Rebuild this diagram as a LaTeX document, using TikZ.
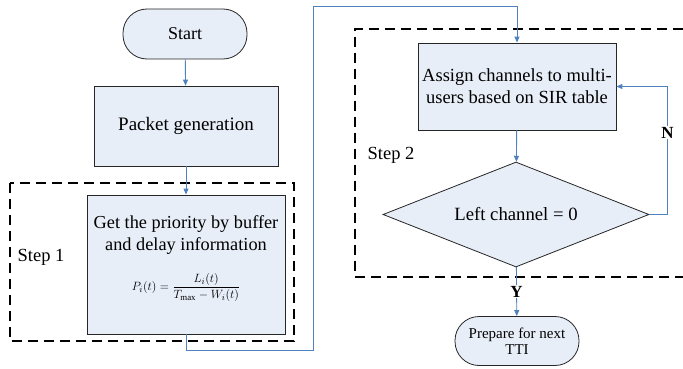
\documentclass[tikz,border=0pt]{standalone}
\usepackage{amsmath}
\usepackage{fontspec}
\setmainfont{Liberation Serif}
\usetikzlibrary{shapes.geometric,arrows.meta}

\definecolor{boxfill}{RGB}{232,238,248}
\definecolor{flowblue}{RGB}{79,129,189}

\tikzset{
  proc/.style={draw=black!85, fill=boxfill, line width=0.8pt, inner sep=2pt, align=center, font=\fontsize{18.5}{22}\selectfont},
  term/.style={proc, rounded corners=24pt},
  decide/.style={proc, diamond, aspect=2.5, inner sep=0pt},
  flow/.style={draw=flowblue, line width=0.9pt, -{Triangle[length=6pt,width=5pt]}},
  stepframe/.style={draw=black, line width=1.4pt, dash pattern=on 10pt off 6pt},
  steplabel/.style={font=\fontsize{18.5}{22}\selectfont},
  answer/.style={fill=white, inner sep=1pt, font=\bfseries\fontsize{17}{19}\selectfont},
}

\begin{document}
\begin{tikzpicture}[x=1pt, y=-1pt]
\useasboundingbox (0,0) rectangle (683,369);

% dashed frames of the two steps
\draw[stepframe] (10,183) rectangle (294,341);
\draw[stepframe] (683,29) -- (355,29) -- (355,277) -- (683,277);
\node[steplabel] (step1) at (41,257) {Step 1};
\node[steplabel] (step2) at (391,155) {Step 2};

% left column
\node[term, minimum width=124pt, minimum height=50pt, font=\fontsize{18}{22}\selectfont] (start) at (185,34) {Start};
\node[proc, minimum width=184pt, minimum height=80pt, font=\fontsize{19}{22}\selectfont] (gen) at (186,126) {Packet generation};
\node[proc, minimum width=198pt, minimum height=139pt] (prio) at (186,264.5) {};
\node[align=center, font=\fontsize{18.3}{22}\selectfont] (priotext) at (186,258.5)
  {Get the priority by buffer\\and delay information\\[18pt]
   {\fontsize{12.6}{14}\selectfont $\displaystyle P_i(t)=\frac{L_i(t)}{T_{\max}-W_i(t)}$}};

% right column
\node[proc, minimum width=198pt, minimum height=87pt] (assign) at (517,86.5)
  {Assign channels to multi-\\users based on SIR table};
\node[decide, minimum width=266pt, minimum height=105pt, font=\fontsize{18.7}{22}\selectfont] (check) at (516,214.5) {Left channel = 0};
\node[term, minimum width=124pt, minimum height=49pt, font=\fontsize{15}{16}\selectfont] (next) at (517,341) {Prepare for next\\TTI};

% connectors
\draw[flow] (start) -- (gen);
\draw[flow] (gen) -- (prio);
\draw[flow] (prio.south) -- ++(0,16) -| (313,6) -| (assign.north);
\draw[flow] (assign) -- (check);
\draw[flow] (check.east) -- ++(18,0) |- (assign.east) node[answer, pos=0.32] {N};
\draw[flow] (check) -- (next) node[answer, midway] {Y};
\end{tikzpicture}
\end{document}
